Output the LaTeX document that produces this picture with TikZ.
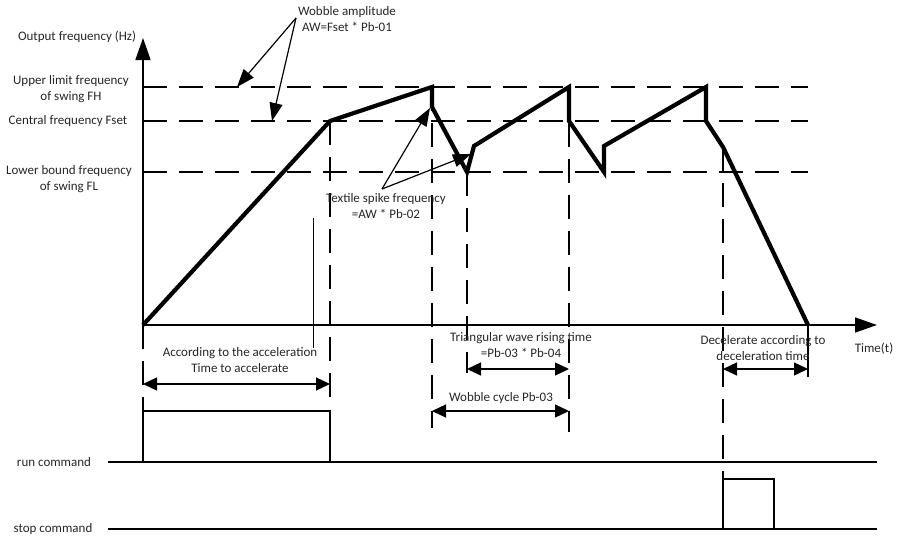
\documentclass[tikz,border=0pt]{standalone}
\usepackage{fontspec}
\setmainfont{Carlito}
\usetikzlibrary{arrows.meta}
\begin{document}
\begin{tikzpicture}[x=1pt,y=-1pt,
  lbl/.style={font=\fontsize{13}{16}\selectfont, align=center, inner sep=0pt, text=black!85},
  thinln/.style={line width=1.3pt},
  dsh/.style={line width=1.3pt, dash pattern=on 24pt off 12pt},
  wave/.style={line width=4.2pt, line join=miter},
  dim/.style={line width=1.3pt, {Triangle[length=14pt,width=13pt]}-{Triangle[length=14pt,width=13pt]}},
  call/.style={line width=1.2pt, -{Triangle[length=18pt,width=13pt]}},
  axis/.style={line width=1.6pt, -{Triangle[length=22pt,width=15pt]}},
]
\useasboundingbox (0,0) rectangle (900,536);
% key coordinates
\coordinate (O) at (143,325);
\coordinate (ytop) at (143,38);
\coordinate (xend) at (877,325);
\coordinate (fhL) at (143,87);  \coordinate (fhR) at (808,87);
\coordinate (fsL) at (143,121); \coordinate (fsR) at (808,121);
\coordinate (flL) at (143,172); \coordinate (flR) at (808,172);
% waveform points
\coordinate (w1) at (330,121);
\coordinate (w2) at (432,87);
\coordinate (w3) at (432,107);
\coordinate (w4) at (467,172);
\coordinate (w5) at (474,146);
\coordinate (w6) at (569,87);
\coordinate (w7) at (569,121);
\coordinate (w8) at (604,172);
\coordinate (w9) at (604,146);
\coordinate (w10) at (706,87);
\coordinate (w11) at (706,121);
\coordinate (w12) at (723,147);
\coordinate (w13) at (808,325);

% dashed level lines
\draw[dsh] (fhL) -- (fhR);
\draw[dsh] (fsL) -- (fsR);
\draw[dsh] (flL) -- (flR);

% vertical dashed lines
\coordinate (v1b) at (330,397);
\coordinate (v2b) at (432,428);
\coordinate (v3b) at (467,373);
\coordinate (v4b) at (569,432);
\coordinate (v5b) at (723,479);
\coordinate (v0b) at (143,411);
\draw[dsh] (w1) -- (v1b);
\draw[dsh] (w2) -- (v2b);
\draw[dsh] (w4) -- (v3b);
\draw[dsh] (w6) -- (v4b);
\draw[dsh] (w12) -- (v5b);
\draw[dsh] (O) -- (v0b);
\coordinate (t8) at (808,377);
\draw[thinln] (w13) -- (t8);
\coordinate (s1) at (313,218);
\coordinate (s2) at (313,348);
\draw[line width=1pt] (s1) -- (s2);

% axes
\draw[axis] (O) -- (ytop);
\draw[axis] (O) -- (xend);

% waveform
\draw[wave] (O) -- (w1) -- (w2) -- (w3) -- (w4) -- (w5) -- (w6) -- (w7) -- (w8) -- (w9) -- (w10) -- (w11) -- (w12) -- (w13);

% dimension arrows
\coordinate (a1) at (143,384); \coordinate (a2) at (330,384);
\coordinate (r1) at (467,369); \coordinate (r2) at (569,369);
\coordinate (c1) at (432,411); \coordinate (c2) at (569,411);
\coordinate (d1) at (723,369); \coordinate (d2) at (808,369);
\draw[dim] (a1) -- (a2);
\draw[dim] (r1) -- (r2);
\draw[dim] (c1) -- (c2);
\draw[dim] (d1) -- (d2);

% callouts
\coordinate (wa) at (296,18);
\coordinate (wat1) at (237,87);
\coordinate (wat2) at (272,121);
\draw[call] (wa) -- (wat1);
\draw[call] (wa) -- (wat2);
\coordinate (ts) at (382,189);
\coordinate (tst1) at (430,108);
\coordinate (tst2) at (471,154);
\draw[call] (ts) -- (tst1);
\draw[call] (ts) -- (tst2);

% run / stop commands
\coordinate (rl) at (108,462); \coordinate (rr) at (877,462);
\coordinate (sl) at (108,529); \coordinate (sr) at (877,529);
\draw[thinln] (rl) -- (rr);
\draw[thinln] (sl) -- (sr);
\coordinate (rp1) at (143,462); \coordinate (rp2) at (143,411);
\coordinate (rp3) at (330,411); \coordinate (rp4) at (330,462);
\draw[thinln] (rp1) -- (rp2) -- (rp3) -- (rp4);
\coordinate (sp1) at (723,529); \coordinate (sp2) at (723,479);
\coordinate (sp3) at (774,479); \coordinate (sp4) at (774,529);
\draw[thinln] (sp1) -- (sp2) -- (sp3) -- (sp4);

% labels
\node[lbl] (tout) at (77,37) {Output frequency (Hz)};
\node[lbl] (tfh) at (71,89) {Upper limit frequency\\of swing FH};
\node[lbl] (tfs) at (68,121) {Central frequency Fset};
\node[lbl] (tfl) at (69,179) {Lower bound frequency\\of swing FL};
\node[lbl] (twa) at (347,19.5) {Wobble amplitude\\AW=Fset * Pb-01};
\node[lbl] (tts) at (386,206) {Textile spike frequency\\=AW * Pb-02};
\node[lbl] (tacc) at (240,360) {According to the acceleration\\Time to accelerate};
\node[lbl] (trise) at (521,345) {Triangular wave rising time\\=Pb-03 * Pb-04};
\node[lbl] (tcyc) at (501,398) {Wobble cycle Pb-03};
\node[lbl] (tdec) at (763,348) {Decelerate according to\\deceleration time};
\node[lbl] (ttime) at (874,349) {Time(t)};
\node[lbl] (trun) at (54,462) {run command};
\node[lbl] (tstop) at (53,529) {stop command};
\end{tikzpicture}
\end{document}
